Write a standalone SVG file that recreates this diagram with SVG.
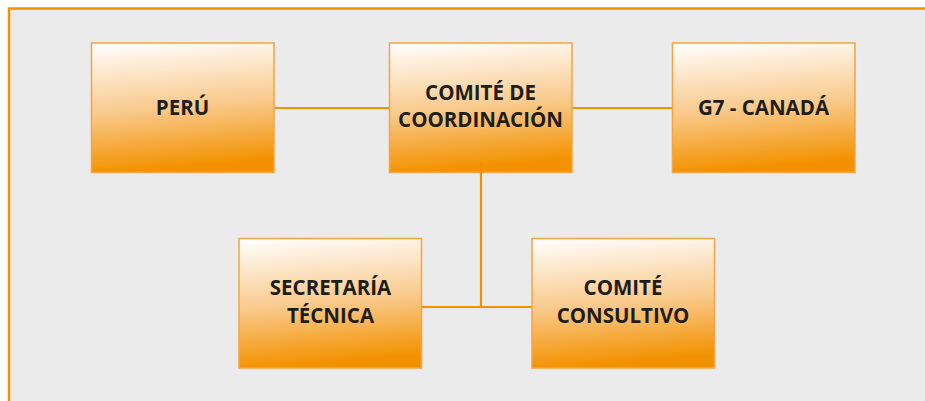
<svg xmlns="http://www.w3.org/2000/svg" width="925" height="401" viewBox="0 0 925 401">
<defs>
<linearGradient id="g" x1="0" y1="0" x2="0.12" y2="1">
<stop offset="0" stop-color="#ffffff"/>
<stop offset="0.55" stop-color="#f9c98a"/>
<stop offset="1" stop-color="#f39200"/>
</linearGradient>
<style>
.box{fill:url(#g);stroke:#f5a541;stroke-width:1.5}
.t{font-family:"Open Sans","Liberation Sans",sans-serif;font-weight:bold;font-size:20.5px;fill:#1d1d1b;text-anchor:middle}
.c{stroke:#f39200;stroke-width:2.2;fill:none}
</style>
</defs>
<rect width="925" height="401" fill="#ffffff"/>
<rect x="9" y="9" width="916" height="392" fill="#ebebeb"/>
<path d="M9 401 V8.5 H925" fill="none" stroke="#f39200" stroke-width="2.5"/>
<g id="peru">
<rect class="box" x="91.5" y="43" width="182.5" height="129.5"/>
<text class="t" x="182.5" y="114.5">PERÚ</text>
</g>
<g id="comite-coordinacion">
<rect class="box" x="389.5" y="43" width="182.5" height="129.5"/>
<text class="t" x="480.5" y="100">COMITÉ DE</text>
<text class="t" x="480.5" y="127">COORDINACIÓN</text>
</g>
<g id="g7-canada">
<rect class="box" x="672.5" y="43" width="182.5" height="129.5"/>
<text class="t" x="763.5" y="114.5">G7 - CANADÁ</text>
</g>
<g id="secretaria-tecnica">
<rect class="box" x="239" y="238.5" width="182.5" height="129.5"/>
<text class="t" x="330.5" y="295">SECRETARÍA</text>
<text class="t" x="330.5" y="323">TÉCNICA</text>
</g>
<g id="comite-consultivo">
<rect class="box" x="532" y="238.5" width="182.5" height="129.5"/>
<text class="t" x="623" y="295">COMITÉ</text>
<text class="t" x="623" y="323">CONSULTIVO</text>
</g>
<g id="connectors">
<line class="c" x1="274.5" y1="108" x2="389" y2="108"/>
<line class="c" x1="572.5" y1="108" x2="672" y2="108"/>
<line class="c" x1="481" y1="162" x2="481" y2="307"/>
<line class="c" x1="422" y1="307" x2="531.5" y2="307"/>
</g>
</svg>
